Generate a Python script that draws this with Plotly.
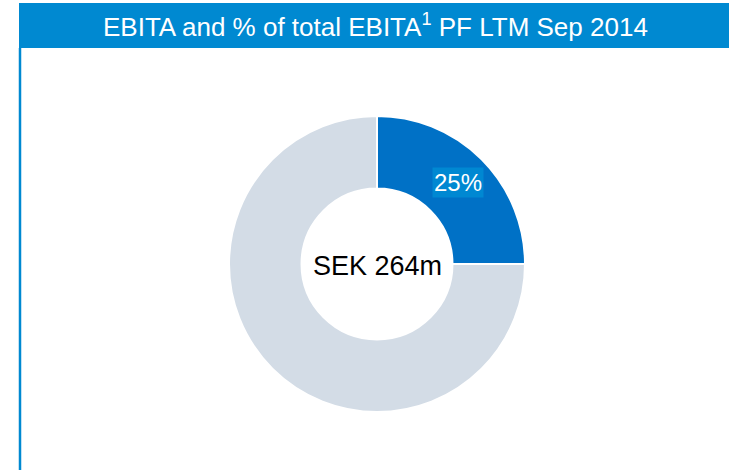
import math
import plotly.graph_objects as go

# EBITA split, % of total
segments = ["Segment", "Rest of group"]
shares = [25, 75]
center_label = "SEK 264m"
title_text = "EBITA and % of total EBITA<sup>1</sup> PF LTM Sep 2014"

W, H = 729, 470
cx, cy, r_out = 377, 264, 148
hole = 0.51
FONT = "Liberation Sans, Arial, sans-serif"

fig = go.Figure()
fig.add_trace(go.Pie(
    labels=segments,
    values=shares,
    hole=hole,
    sort=False,
    direction="clockwise",
    rotation=0,
    textinfo="none",
    hoverinfo="label+percent",
    marker=dict(colors=["#0071C6", "#D3DCE6"], line=dict(color="white", width=2)),
    domain=dict(x=[(cx - r_out) / W, (cx + r_out) / W],
                y=[(H - cy - r_out) / H, (H - cy + r_out) / H]),
    showlegend=False,
))

# header band and left rule
fig.add_shape(type="rect", xref="paper", yref="paper",
              x0=19 / W, x1=1, y0=(H - 48) / H, y1=(H - 3) / H,
              fillcolor="#0089D1", line_width=0, layer="below")
fig.add_shape(type="line", xref="paper", yref="paper",
              x0=20 / W, x1=20 / W, y0=0, y1=(H - 48) / H,
              line=dict(color="#0089D1", width=2.5))

fig.add_annotation(text=title_text, xref="paper", yref="paper",
                   x=(cx - 1) / W, y=(H - 26) / H, showarrow=False,
                   font=dict(family=FONT, size=26, color="white"),
                   xanchor="center", yanchor="middle")

# share label placed at the middle of the first slice
mid_frac = shares[0] / sum(shares) / 2
ang = math.pi / 2 - 2 * math.pi * mid_frac
r_mid = (r_out * (1 + hole)) / 2 + 3
lx = cx + r_mid * math.cos(ang)
ly = cy - r_mid * math.sin(ang)
fig.add_annotation(text=f"{shares[0]}%", xref="paper", yref="paper",
                   x=lx / W, y=(H - ly) / H, showarrow=False,
                   font=dict(family=FONT, size=24, color="white"),
                   bgcolor="#0088D2", borderpad=1,
                   xanchor="center", yanchor="middle")

fig.add_annotation(text=center_label, xref="paper", yref="paper",
                   x=cx / W, y=(H - cy - 2) / H, showarrow=False,
                   font=dict(family=FONT, size=27, color="black"),
                   xanchor="center", yanchor="middle")

fig.update_layout(width=W, height=H, margin=dict(l=0, r=0, t=0, b=0),
                  paper_bgcolor="white", plot_bgcolor="white")

fig.write_html("out.html")
